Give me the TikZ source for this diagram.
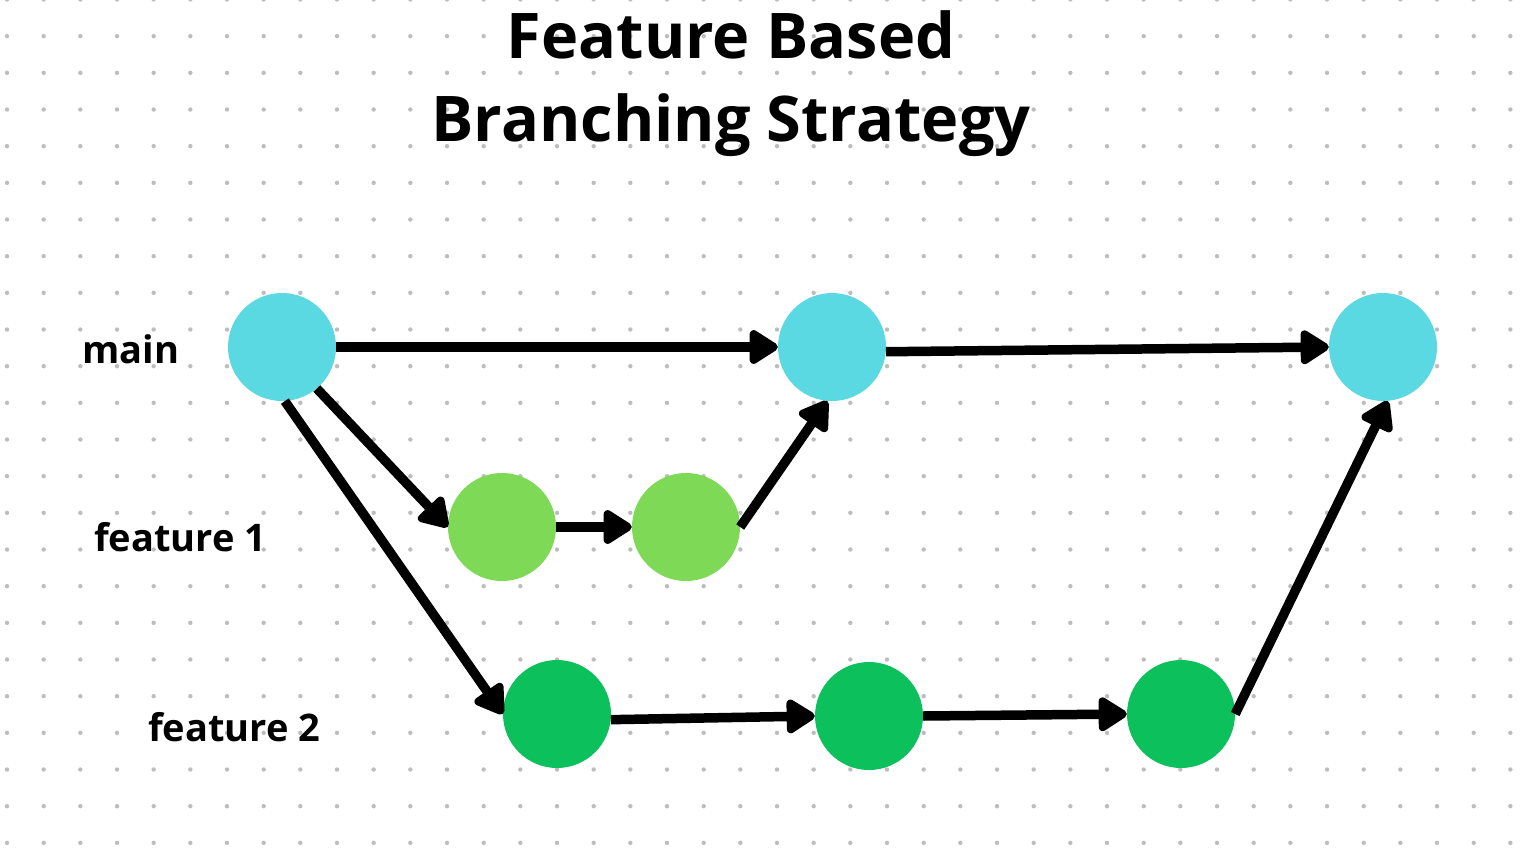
\documentclass[tikz,border=0pt]{standalone}
\usepackage{fontspec}
\setmainfont{Open Sans}
\usetikzlibrary{arrows.meta}
\definecolor{maincol}{HTML}{5BD9E3}
\definecolor{fonecol}{HTML}{7ED957}
\definecolor{ftwocol}{HTML}{0CC15B}
\definecolor{dotcol}{HTML}{BDBDBD}
\begin{document}
\begin{tikzpicture}[x=1pt,y=-1pt,
  commit/.style={circle, minimum size=108pt, inner sep=0pt},
  mainc/.style={commit, fill=maincol},
  fone/.style={commit, fill=fonecol},
  ftwo/.style={commit, fill=ftwocol},
  conn/.style={line width=9.5pt, -{Triangle[length=32pt,width=38pt,round]}},
  lbl/.style={font=\bfseries\fontsize{38}{44}\selectfont, anchor=west, inner sep=0pt},
  ttl/.style={font=\bfseries\fontsize{63}{72}\selectfont, inner sep=0pt}]
\useasboundingbox[fill=white] (0,0) rectangle (1536,865);
\foreach \i in {0,...,41} \foreach \j in {0,...,23} \fill[dotcol] ({7+36.667*\i},{-0.5+36.667*\j}) circle (2.2pt);
\node[ttl] (t1) at (731,35) {Feature Based};
\node[ttl] (t2) at (731,125) {Branching Strategy};
\node[lbl] (lmain) at (82,349) {main};
\node[lbl] (lf1) at (94,537) {feature 1};
\node[lbl] (lf2) at (148,727) {feature 2};
\node[mainc] (m1) at (282,347) {};
\node[mainc] (m2) at (832,347) {};
\node[mainc] (m3) at (1383,347) {};
\node[fone] (a1) at (502,527) {};
\node[fone] (a2) at (686,527) {};
\node[ftwo] (b1) at (557,714) {};
\node[ftwo] (b2) at (869,716) {};
\node[ftwo] (b3) at (1181,714) {};
\draw[conn] (m1.east) -- (m2.west);
\draw[conn] (m2.-5) -- (m3.west);
\draw[conn] (m1.-50) -- (a1.west);
\draw[conn] (m1.-87) -- (b1.west);
\draw[conn] (a1.east) -- (a2.west);
\draw[conn] (a2.east) -- (m2.-95);
\draw[conn] (b1.-6) -- (b2.west);
\draw[conn] (b2.east) -- (b3.west);
\draw[conn] (b3.east) -- (m3.-85);
\end{tikzpicture}
\end{document}
